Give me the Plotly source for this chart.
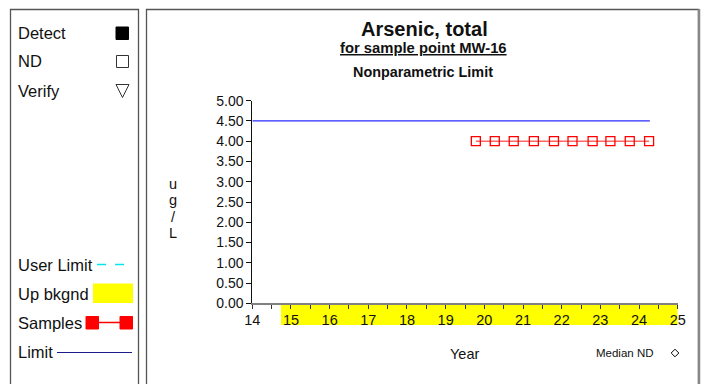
import plotly.graph_objects as go

W, H = 705, 384

# ---- data ----
sample_years = [19.78, 20.27, 20.76, 21.28, 21.80, 22.28, 22.80, 23.26, 23.76, 24.26]
sample_values = [4.0, 4.0, 4.0, 4.0, 4.0, 4.0, 4.0, 4.0, 4.0, 4.0]
limit_years = [14.0, 24.28]
limit_values = [4.5, 4.5]
median_nd_year = [25.77]
median_nd_value = [4.0]
bkgnd_start, bkgnd_end = 14.74, 25.0
x_range = [14, 25]
y_range = [0, 5]
y_ticks = [0, 0.5, 1, 1.5, 2, 2.5, 3, 3.5, 4, 4.5, 5]
x_ticks = list(range(14, 26))
y_title_letters = ["u", "g", "/", "L"]

FONT = "Liberation Sans, Arial, sans-serif"


def px(x):
    return x / W


def py(y):
    return 1 - y / H


fig = go.Figure()

fig.add_trace(go.Scatter(x=limit_years, y=limit_values, mode="lines",
                         line=dict(color="#2b2bff", width=1.3), hoverinfo="skip"))
fig.add_trace(go.Scatter(x=sample_years, y=sample_values, mode="lines+markers",
                         line=dict(color="rgba(255,0,0,0.6)", width=1.5),
                         marker=dict(symbol="square-open", size=9, color="red",
                                     line=dict(width=1.3, color="red"))))
fig.add_trace(go.Scatter(x=median_nd_year, y=median_nd_value, mode="markers",
                         cliponaxis=False,
                         marker=dict(symbol="diamond-open", size=8, color="red",
                                     line=dict(width=1.3, color="red"))))

shapes = []
# up-background band below axis
shapes.append(dict(type="rect", xref="x", yref="paper", x0=bkgnd_start, x1=bkgnd_end,
                   y0=py(325), y1=py(304), fillcolor="#ffff00", line=dict(width=0),
                   layer="below"))
# panels
shapes.append(dict(type="rect", xref="paper", yref="paper", x0=px(10.5), x1=px(138.5),
                   y0=py(395), y1=py(9.5), line=dict(color="#555", width=1.3),
                   fillcolor="rgba(0,0,0,0)"))
shapes.append(dict(type="rect", xref="paper", yref="paper", x0=px(146.5), x1=px(698.5),
                   y0=py(395), y1=py(9.5), line=dict(color="#555", width=1.3),
                   fillcolor="rgba(0,0,0,0)"))
shapes.append(dict(type="line", xref="paper", yref="paper", x0=px(699), x1=px(699),
                   y0=py(395), y1=py(9), line=dict(color="#888", width=2.5)))
# left legend symbols
shapes.append(dict(type="rect", xref="paper", yref="paper", x0=px(116), x1=px(128.5),
                   y0=py(39.5), y1=py(27), fillcolor="black", line=dict(color="black", width=1)))
shapes.append(dict(type="rect", xref="paper", yref="paper", x0=px(116.5), x1=px(128.5),
                   y0=py(67.5), y1=py(55.5), fillcolor="white", line=dict(color="#333", width=1)))
shapes.append(dict(type="path", xref="paper", yref="paper",
                   path=f"M {px(116)} {py(84.5)} L {px(129)} {py(84.5)} L {px(122.5)} {py(97.5)} Z",
                   fillcolor="white", line=dict(color="#333", width=1)))
shapes.append(dict(type="line", xref="paper", yref="paper", x0=px(97), x1=px(132),
                   y0=py(264.5), y1=py(264.5), line=dict(color="#00e5ee", width=1.3, dash="dash")))
shapes.append(dict(type="rect", xref="paper", yref="paper", x0=px(93), x1=px(133),
                   y0=py(303), y1=py(283.5), fillcolor="#ffff00", line=dict(width=0)))
shapes.append(dict(type="line", xref="paper", yref="paper", x0=px(92), x1=px(126),
                   y0=py(322.5), y1=py(322.5), line=dict(color="red", width=1.3)))
shapes.append(dict(type="rect", xref="paper", yref="paper", x0=px(86), x1=px(98.5),
                   y0=py(329), y1=py(316.5), fillcolor="red", line=dict(color="red", width=1)))
shapes.append(dict(type="rect", xref="paper", yref="paper", x0=px(120), x1=px(132.5),
                   y0=py(329), y1=py(316.5), fillcolor="red", line=dict(color="red", width=1)))
shapes.append(dict(type="line", xref="paper", yref="paper", x0=px(57), x1=px(132),
                   y0=py(352.5), y1=py(352.5), line=dict(color="#1a1a8c", width=1.2)))
# median ND legend diamond
cx, cy, r = 675, 353, 3.8
shapes.append(dict(type="path", xref="paper", yref="paper",
                   path=f"M {px(cx)} {py(cy-r)} L {px(cx+r)} {py(cy)} L {px(cx)} {py(cy+r)} L {px(cx-r)} {py(cy)} Z",
                   fillcolor="white", line=dict(color="black", width=1)))

ann = []


def text(x, y, t, size, xanchor="left", color="#111"):
    ann.append(dict(x=px(x), y=py(y), xref="paper", yref="paper", text=t, showarrow=False,
                    xanchor=xanchor, yanchor="middle",
                    font=dict(family=FONT, size=size, color=color)))


text(424, 29, "<b>Arsenic, total</b>", 20, "center")
text(423, 48, "<b><u>for sample point MW-16</u></b>", 14.8, "center")
text(423, 72, "<b>Nonparametric Limit</b>", 14.4, "center")
for i, ch in enumerate(y_title_letters):
    text(173, 184 + i * 16.3, ch, 14.5, "center")
text(465, 354, "Year", 14.5, "center")
text(594, 353, "Median ND", 11.5, "left")

LEG = 16.5
text(16, 33, "Detect", LEG)
text(16, 61, "ND", LEG)
text(16, 91, "Verify", LEG)
text(16, 265, "User Limit", LEG)
text(16, 294, "Up bkgnd", LEG)
text(16, 323, "Samples", LEG)
text(16, 352, "Limit", LEG)

fig.update_layout(
    width=W, height=H, autosize=False,
    margin=dict(l=0, r=0, t=0, b=0, pad=0, autoexpand=False),
    paper_bgcolor="white", plot_bgcolor="rgba(0,0,0,0)",
    showlegend=False,
    shapes=shapes, annotations=ann,
    font=dict(family=FONT, color="#111"),
    xaxis=dict(domain=[px(252.3), px(677.7)], range=x_range, tickvals=x_ticks,
               ticks="outside", ticklen=4, tickcolor="#333", tickwidth=1,
               minor=dict(dtick=0.5, ticks="outside", ticklen=4, tickcolor="#333", showgrid=False),
               showline=True, linecolor="#808080", linewidth=2, automargin=False,
               ticklabelstandoff=-2,
               showgrid=False, zeroline=False, tickfont=dict(size=14.5)),
    yaxis=dict(domain=[py(303.3), py(100.7)], range=y_range, tickvals=y_ticks,
               tickformat=".2f", ticks="outside", ticklen=5, tickcolor="#111",
               showline=True, linecolor="#111", linewidth=1, automargin=False,
               showgrid=False, zeroline=False, tickfont=dict(size=14)),
)

fig.write_html(
    "out.html",
    config={"displayModeBar": False},
    post_script="document.body.style.margin='0';document.body.style.padding='0';"
                "document.body.style.overflow='hidden';",
)
